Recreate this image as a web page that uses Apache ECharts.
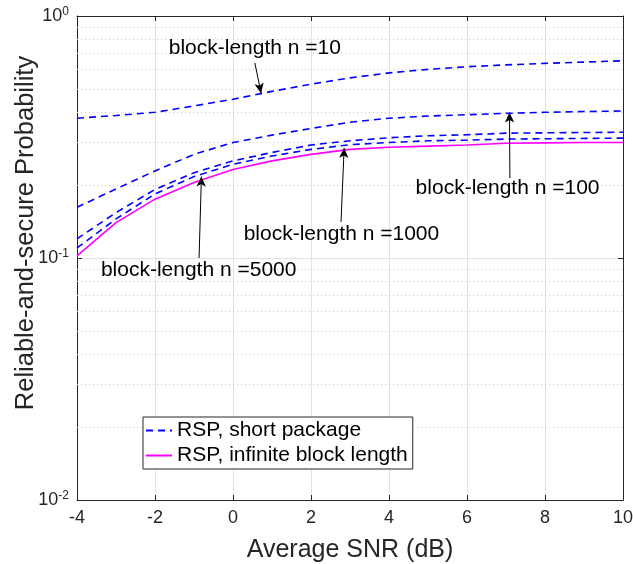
<!DOCTYPE html>
<html>
<head>
<meta charset="utf-8">
<script src="https://cdn.jsdelivr.net/npm/echarts@6/dist/echarts.min.js"></script>
<style>
  html, body { margin: 0; padding: 0; background: #fff; }
  #main { width: 633px; height: 564px; }
</style>
</head>
<body>
<div id="main"></div>
<script>
// average SNR (dB)
const snr = [-4, -3, -2, -1, 0, 1, 2, 3, 4, 5, 6, 7, 8, 9, 10]
// RSP, short package, block-length n = 10 / 100 / 1000 / 5000
const n10 = [0.378, 0.388, 0.400, 0.425, 0.453, 0.488, 0.523, 0.555, 0.582, 0.602, 0.617, 0.628, 0.637, 0.645, 0.653]
const n100 = [0.162, 0.193, 0.229, 0.268, 0.300, 0.322, 0.343, 0.364, 0.378, 0.386, 0.391, 0.396, 0.400, 0.403, 0.405]
const n1000 = [0.120, 0.154, 0.192, 0.225, 0.252, 0.273, 0.293, 0.305, 0.314, 0.320, 0.323, 0.328, 0.329, 0.330, 0.331]
const n5000 = [0.110, 0.145, 0.184, 0.217, 0.244, 0.264, 0.281, 0.294, 0.300, 0.305, 0.307, 0.310, 0.311, 0.312, 0.313]
// RSP, infinite block length
const infinite = [0.102, 0.140, 0.175, 0.205, 0.232, 0.252, 0.268, 0.281, 0.287, 0.290, 0.293, 0.298, 0.299, 0.300, 0.300]
// dotted minor grid of the log axis
const minorTicks = [0.02, 0.03, 0.04, 0.05, 0.06, 0.07, 0.08, 0.09, 0.2, 0.3, 0.4, 0.5, 0.6, 0.7, 0.8, 0.9]
// annotations: text, text position, arrow tail, arrow tip (data units)
const notes = [
    { text: 'block-length n =10', at: [0.56, 0.738], from: [0.56, 0.64], to: [0.72, 0.48] },
    { text: 'block-length n =100', at: [7.04, 0.195], from: [7.10, 0.214], to: [7.09, 0.399] },
    { text: 'block-length n =1000', at: [2.78, 0.126], from: [2.77, 0.141], to: [2.85, 0.285] },
    { text: 'block-length n =5000', at: [-0.88, 0.089], from: [-0.87, 0.100], to: [-0.81, 0.217] }
]

const font = 'Liberation Sans, Arial, Helvetica, sans-serif'
const blue = '#0000ff'
const magenta = '#ff00ff'

function pairs(ys){
    return snr.map((x, i) => [x, ys[i]])
}

function noteMarks(note){
    return {
        markPoint: {
            silent: true,
            symbol: 'rect',
            symbolSize: 1,
            itemStyle: { color: 'rgba(0,0,0,0)' },
            label: {
                show: true,
                position: 'inside',
                color: '#000',
                fontFamily: font,
                fontSize: 21,
                formatter: note.text
            },
            data: [{ coord: note.at }]
        },
        markLine: {
            silent: true,
            symbol: ['none', 'arrow'],
            symbolSize: [7, 10],
            label: { show: false },
            lineStyle: { color: '#000', type: 'solid', width: 1 },
            data: [[{ coord: note.from }, { coord: note.to }]]
        }
    }
}

function dashed(ys, note){
    return Object.assign({
        name: 'RSP, short package',
        type: 'line',
        data: pairs(ys),
        symbol: 'none',
        animation: false,
        itemStyle: { color: blue },
        lineStyle: { color: blue, width: 1.6, type: [7, 5] }
    }, noteMarks(note))
}

const chart = echarts.init(document.getElementById('main'))
const option = {
    backgroundColor: '#fff',
    textStyle: { fontFamily: font },
    grid: { left: 77, right: 10, top: 16, bottom: 64, outerBoundsMode: 'none', containLabel: false },
    legend: {
        left: 143,
        top: 417,
        orient: 'vertical',
        padding: [3, 5, 3, 2],
        itemGap: 4,
        itemWidth: 26,
        itemHeight: 14,
        backgroundColor: '#fff',
        borderColor: '#262626',
        borderWidth: 1,
        itemStyle: { opacity: 0 },
        textStyle: { fontFamily: font, fontSize: 21, color: '#000' },
        data: ['RSP, short package', 'RSP, infinite block length']
    },
    xAxis: [{
        type: 'value',
        min: -4,
        max: 10,
        interval: 2,
        name: 'Average SNR (dB)',
        nameLocation: 'middle',
        nameGap: 38,
        nameMoveOverlap: false,
        nameTextStyle: { fontFamily: font, fontSize: 25, color: '#262626' },
        axisLine: { onZero: false, lineStyle: { color: '#262626', width: 1 } },
        axisTick: { inside: true, length: 5, lineStyle: { color: '#262626' } },
        axisLabel: { margin: 9, fontFamily: font, fontSize: 18, color: '#262626' },
        splitLine: { show: true, lineStyle: { color: '#e3e3e3', width: 1 } }
    }, {
        type: 'value',
        position: 'top',
        min: -4,
        max: 10,
        interval: 2,
        axisLine: { onZero: false, lineStyle: { color: '#262626', width: 1 } },
        axisTick: { inside: true, length: 5, lineStyle: { color: '#262626' } },
        axisLabel: { show: false },
        splitLine: { show: false }
    }],
    yAxis: [{
        type: 'log',
        logBase: 10,
        min: 0.01,
        max: 1,
        name: 'Reliable-and-secure Probability',
        nameLocation: 'middle',
        nameGap: 38,
        nameMoveOverlap: false,
        nameTextStyle: { fontFamily: font, fontSize: 25.5, color: '#262626', padding: [0, 0, 0, 50] },
        axisLine: { onZero: false, lineStyle: { color: '#262626', width: 1 } },
        axisTick: { inside: true, length: 5, lineStyle: { color: '#262626' } },
        axisLabel: {
            margin: 8,
            fontFamily: font,
            fontSize: 18,
            color: '#262626',
            formatter: function(v){
                return '10{sup|' + Math.round(Math.log10(v)) + '}'
            },
            rich: {
                sup: { fontFamily: font, fontSize: 12, color: '#262626', verticalAlign: 'bottom', padding: [0, 0, 9, 0] }
            }
        },
        splitLine: { show: true, lineStyle: { color: '#e3e3e3', width: 1 } }
    }, {
        type: 'log',
        logBase: 10,
        min: 0.01,
        max: 1,
        position: 'right',
        axisLine: { onZero: false, lineStyle: { color: '#262626', width: 1 } },
        axisTick: { inside: true, length: 5, lineStyle: { color: '#262626' } },
        axisLabel: { show: false },
        splitLine: { show: false }
    }],
    series: [
        dashed(n10, notes[0]),
        dashed(n100, notes[1]),
        dashed(n1000, notes[2]),
        dashed(n5000, notes[3]),
        {
            name: 'RSP, infinite block length',
            type: 'line',
            data: pairs(infinite),
            symbol: 'none',
            animation: false,
            z: 3,
            itemStyle: { color: magenta },
            lineStyle: { color: magenta, width: 1.6 },
            markLine: {
                silent: true,
                symbol: ['none', 'none'],
                label: { show: false },
                z: 1,
                lineStyle: { color: '#c8c8c8', type: [1, 3], width: 1 },
                data: minorTicks.map(v => ({ yAxis: v }))
            }
        }
    ]
}
chart.setOption(option)
</script>
</body>
</html>
